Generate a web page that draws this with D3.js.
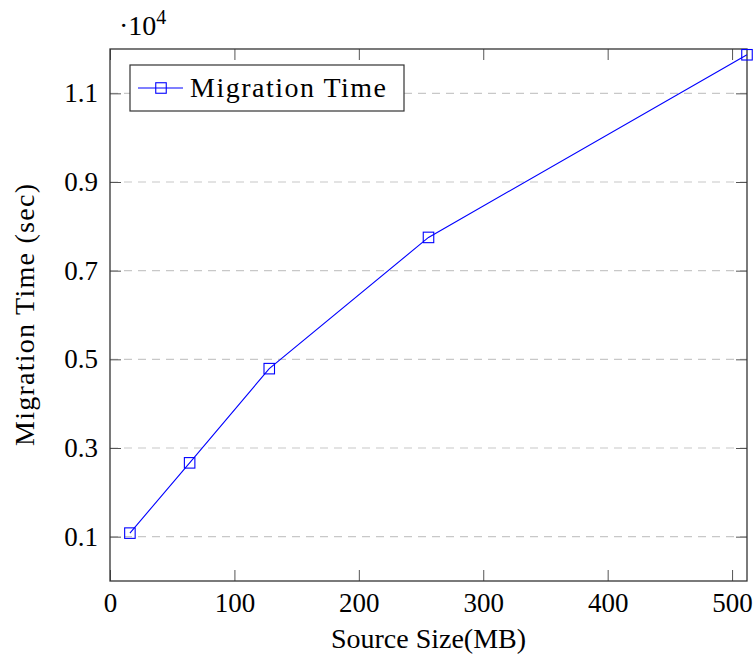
<!DOCTYPE html>
<html>
<head>
<meta charset="utf-8">
<script src="https://cdnjs.cloudflare.com/ajax/libs/d3/7.8.5/d3.min.js"></script>
<style>
  body { margin: 0; background: #fff; }
  text { font-family: 'Liberation Serif', 'Times New Roman', serif; fill: #000; }
</style>
</head>
<body>
<svg id="chart" width="755" height="661"></svg>
<script>
// source size (MB) and migration time (sec)
var sizes = [16, 64, 128, 256, 512];
var times = [1080, 2665, 4790, 7750, 11870];
var xTicks = [0, 100, 200, 300, 400, 500];
var yTicks = [1000, 3000, 5000, 7000, 9000, 11000];
var seriesName = 'Migration Time';

(function() {
  var mLeft = 110, mRight = 747, mTop = 49, mBottom = 581;
  var svg = d3.select('#chart');

  var x = d3.scaleLinear().domain([0, 512]).range([mLeft, mRight]);
  var y = d3.scaleLinear().domain([0, 12000]).range([mBottom, mTop]);

  // horizontal dashed grid
  svg.append('g').selectAll('line')
    .data(yTicks)
    .enter().append('line')
    .attr('x1', mLeft).attr('x2', mRight)
    .attr('y1', function(d) { return y(d); })
    .attr('y2', function(d) { return y(d); })
    .attr('stroke', '#c8c8c8')
    .attr('stroke-width', 1.2)
    .attr('stroke-dasharray', '8,6');

  function styleAxis(g) {
    g.select('.domain').remove();
    g.selectAll('.tick line').attr('stroke', '#555').attr('stroke-width', 1);
  }

  // bottom / top axes (ticks pointing inward)
  svg.append('g')
    .attr('transform', 'translate(0,' + mBottom + ')')
    .call(d3.axisBottom(x).tickValues(xTicks).tickSize(-11).tickFormat(d3.format('d')))
    .call(styleAxis)
    .selectAll('text').attr('font-size', 27).attr('dy', '0.71em').attr('y', 12);

  svg.append('g')
    .attr('transform', 'translate(0,' + mTop + ')')
    .call(d3.axisTop(x).tickValues(xTicks).tickSize(-11).tickFormat(''))
    .call(styleAxis);

  // left / right axes
  svg.append('g')
    .attr('transform', 'translate(' + mLeft + ',0)')
    .call(d3.axisLeft(y).tickValues(yTicks).tickSize(-11)
      .tickFormat(function(d) { return (d / 10000).toFixed(1); }))
    .call(styleAxis)
    .selectAll('text').attr('font-size', 27).attr('x', -12);

  svg.append('g')
    .attr('transform', 'translate(' + mRight + ',0)')
    .call(d3.axisRight(y).tickValues(yTicks).tickSize(-11).tickFormat(''))
    .call(styleAxis);

  // frame
  svg.append('rect')
    .attr('x', mLeft).attr('y', mTop)
    .attr('width', mRight - mLeft).attr('height', mBottom - mTop)
    .attr('fill', 'none')
    .attr('stroke', '#333')
    .attr('stroke-width', 1.3);

  // data line
  var pts = sizes.map(function(s, i) { return [s, times[i]]; });
  svg.append('path')
    .datum(pts)
    .attr('fill', 'none')
    .attr('stroke', '#0000ff')
    .attr('stroke-width', 1.1)
    .attr('d', d3.line().x(function(d) { return x(d[0]); }).y(function(d) { return y(d[1]); }));

  var ms = 10.5;
  svg.append('g').selectAll('rect')
    .data(pts)
    .enter().append('rect')
    .attr('x', function(d) { return x(d[0]) - ms / 2; })
    .attr('y', function(d) { return y(d[1]) - ms / 2; })
    .attr('width', ms).attr('height', ms)
    .attr('fill', 'none')
    .attr('stroke', '#0000ff')
    .attr('stroke-width', 1.1);

  // legend
  var lg = svg.append('g');
  lg.append('rect')
    .attr('x', 130).attr('y', 65).attr('width', 274).attr('height', 46)
    .attr('fill', '#fff').attr('stroke', '#333').attr('stroke-width', 1.2);
  lg.append('line')
    .attr('x1', 138).attr('x2', 183).attr('y1', 88).attr('y2', 88)
    .attr('stroke', '#0000ff').attr('stroke-width', 1.1);
  lg.append('rect')
    .attr('x', 161 - ms / 2).attr('y', 88 - ms / 2).attr('width', ms).attr('height', ms)
    .attr('fill', 'none').attr('stroke', '#0000ff').attr('stroke-width', 1.1);
  lg.append('text')
    .attr('x', 190).attr('y', 97)
    .attr('font-size', 28)
    .attr('textLength', 196)
    .text(seriesName);

  // exponent label
  var ex = svg.append('text').attr('x', 119).attr('y', 35).attr('font-size', 28);
  ex.append('tspan').text('\u00b710');
  ex.append('tspan').attr('font-size', 20).attr('dy', -11).text('4');

  // axis titles
  svg.append('text')
    .attr('x', (mLeft + mRight) / 2).attr('y', 648)
    .attr('text-anchor', 'middle').attr('font-size', 28)
    .text('Source Size(MB)');

  svg.append('text')
    .attr('transform', 'translate(34,' + ((mTop + mBottom) / 2) + ') rotate(-90)')
    .attr('text-anchor', 'middle').attr('font-size', 28)
    .attr('textLength', 262)
    .text('Migration Time (sec)');
})();
</script>
</body>
</html>
